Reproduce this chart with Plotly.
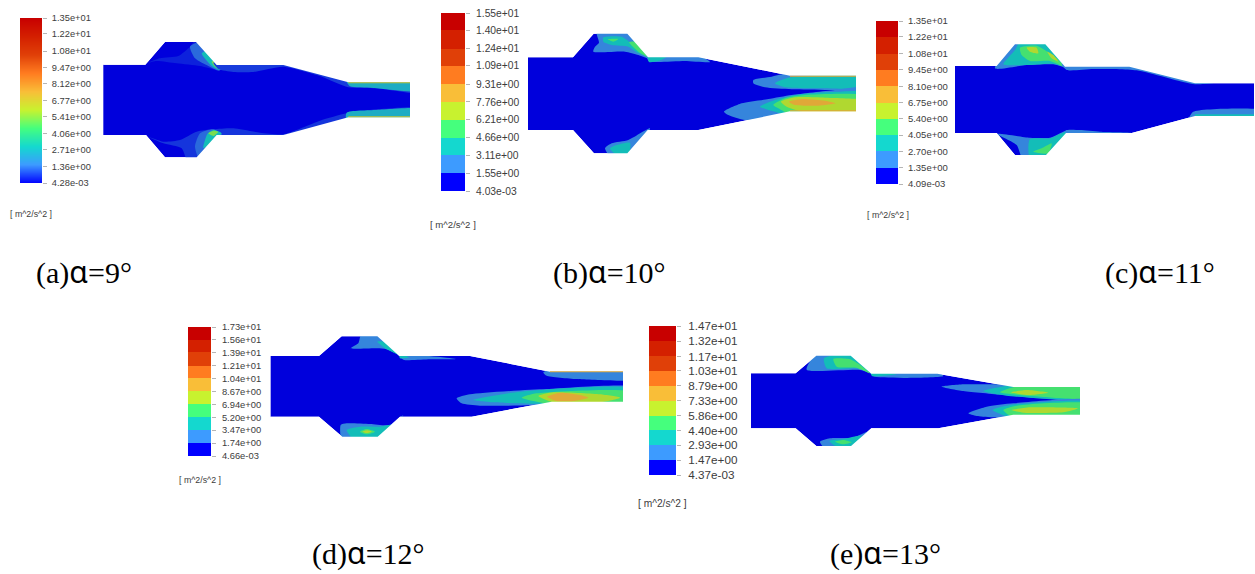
import plotly.graph_objects as go

W, H = 1255, 574

# Legend tick labels, bottom to top
TICKS_A = ["4.28e-03","1.36e+00","2.71e+00","4.06e+00","5.41e+00","6.77e+00","8.12e+00","9.47e+00","1.08e+01","1.22e+01","1.35e+01"]
TICKS_B = ["4.03e-03","1.55e+00","3.11e+00","4.66e+00","6.21e+00","7.76e+00","9.31e+00","1.09e+01","1.24e+01","1.40e+01","1.55e+01"]
TICKS_C = ["4.09e-03","1.35e+00","2.70e+00","4.05e+00","5.40e+00","6.75e+00","8.10e+00","9.45e+00","1.08e+01","1.22e+01","1.35e+01"]
TICKS_D = ["4.66e-03","1.74e+00","3.47e+00","5.20e+00","6.94e+00","8.67e+00","1.04e+01","1.21e+01","1.39e+01","1.56e+01","1.73e+01"]
TICKS_E = ["4.37e-03","1.47e+00","2.93e+00","4.40e+00","5.86e+00","7.33e+00","8.79e+00","1.03e+01","1.17e+01","1.32e+01","1.47e+01"]

BAND_COLORS = ["#0000FF","#3D9BFF","#14D8CF","#45FF7D","#C8F22F","#F9BE38","#FF7C20","#E04008","#D42000","#C80000"]
FIELD_COLORS = ["#0000DC","#3585DC","#13BDB8","#45E070","#B0D830","#E0A838","#E87020"]

# Nozzle outlines, in units of the panel's own grid
OUTLINE_A = [(310,194),(436,194),(495,126),(588,126),(650,195),(850,195),(1045,247),(1230,247),(1230,352),(1045,352),(850,405),(650,405),(590,472),(495,472),(438,405),(310,405)]
OUTLINE_B = [(309,172),(444,172),(506,101),(607,101),(669,172),(820,172),(1095,227),(1293,227),(1293,334),(1095,334),(820,390),(668,390),(607,460),(507,460),(444,390),(309,390)]
OUTLINE_C = [(285,183),(410,183),(465,118),(556,118),(615,185),(808,185),(1005,235),(1182,235),(1182,333),(1005,333),(815,384),(618,384),(558,450),(465,450),(410,384),(285,384)]
OUTLINE_D = [(302,123),(447,123),(515,64),(622,64),(688,123),(900,123),(1140,170),(1359,170),(1359,260),(1145,260),(905,305),(690,305),(623,365),(517,365),(447,305),(302,305)]
OUTLINE_E = [(363,175),(497,175),(559,122),(662,122),(724,176),(922,176),(1150,216),(1350,216),(1350,299),(1150,299),(925,340),(724,340),(663,393),(559,393),(497,340),(363,340)]

# Contour regions: (level, vertices). Vertices may run past the walls; the outside is masked.
REGIONS_A = [
 (0.25,[(445,188),(480,175),(535,168),(570,140),(590,118),(670,190),(662,210),(600,198),(530,190),(470,183)]),
 (0.8,[(570,140),(600,125),(665,190),(658,212),(625,198),(585,175)]),
 (2.0,[(605,160),(630,150),(670,195),(660,210),(635,198)]),
 (3.5,[(635,185),(660,185),(662,208),(645,200)]),
 (0.45,[(640,188),(850,185),(1045,235),(1290,235),(1290,280),(1130,265),(1045,262),(960,228),(850,200),(760,216),(700,216),(655,207)]),
 (1.7,[(1040,245),(1300,240),(1300,274),(1120,264),(1050,259)]),
 (0.4,[(445,410),(490,425),(540,420),(590,395),(640,388),(700,385),(780,398),(850,403),(960,362),(1040,340),(1130,328),(1290,325),(1290,365),(1045,365),(850,420),(650,420),(600,490),(565,490),(545,445),(490,430)]),
 (0.8,[(600,400),(640,388),(670,410),(600,480),(585,440)]),
 (2.0,[(622,402),(640,390),(665,400),(610,445)]),
 (1.7,[(1040,338),(1130,330),(1300,328),(1300,365),(1040,365)]),
 (3.5,[(625,400),(640,392),(655,395),(640,408)]),
]
LINES_A = [(4.5,[(1045,247),(1230,247),(1230,250),(1045,250)]),(4.5,[(1045,349),(1230,349),(1230,352),(1045,352)])]
REGIONS_B = [
 (1,[(515,95),(620,90),(660,150),(680,178),(640,165),(600,155),(505,155),(510,140),(522,128)]),
 (2,[(535,112),(590,110),(625,135),(668,168),(640,160),(610,140),(560,135),(535,125)]),
 (3,[(612,127),(628,125),(670,172),(640,155)]),
 (3,[(548,118),(580,117),(565,125)]),
 (1,[(665,165),(820,165),(855,186),(780,183),(700,186),(672,184)]),
 (2,[(668,165),(725,170),(700,183),(672,186)]),
 (1,[(540,445),(560,430),(610,420),(675,385),(620,475),(560,475)]),
 (2,[(555,445),(575,435),(615,428),(610,470),(570,462)]),
 (1,[(985,240),(1040,230),(1090,220),(1340,220),(1340,265),(1220,270),(1100,268),(1020,262),(985,250)]),
 (2,[(1050,250),(1095,232),(1340,225),(1340,262),(1190,265),(1080,262)]),
 (1,[(897,335),(950,310),(1030,297),(1100,285),(1230,270),(1340,262),(1340,345),(1095,345),(960,360),(910,345)]),
 (2,[(1005,320),(1050,300),(1130,282),(1240,275),(1340,277),(1340,345),(1095,345),(1030,330)]),
 (3,[(1045,315),(1080,295),(1140,285),(1340,290),(1340,345),(1100,345),(1060,325)]),
 (4,[(1068,305),(1110,292),(1200,293),(1340,305),(1340,345),(1150,340),(1085,320)]),
 (5,[(1092,305),(1130,297),(1200,302),(1232,310),(1180,317),(1110,315)]),
]
LINES_B = [(5,[(1095,227),(1293,227),(1293,230),(1095,230)]),(5,[(1095,331),(1293,331),(1293,334),(1095,334)])]
REGIONS_C = [
 (1,[(405,190),(468,105),(560,105),(630,190),(580,178),(500,180)]),
 (2,[(430,178),(465,135),(480,110),(560,115),(625,185),(575,176),(500,180)]),
 (3,[(480,128),(530,122),(590,160),(612,185),(570,168),(510,168),(485,150)]),
 (4,[(500,128),(530,128),(535,145),(510,140)]),
 (4,[(562,140),(580,150),(595,170),(575,160)]),
 (1,[(605,178),(808,178),(1005,225),(1100,228),(1005,238),(830,196),(700,192),(620,195)]),
 (1,[(412,387),(510,398),(570,398),(625,375),(570,465),(490,465),(470,420)]),
 (2,[(510,402),(570,400),(620,380),(565,460),(510,460),(505,425)]),
 (3,[(520,440),(545,430),(575,415),(565,445)]),
 (1,[(618,376),(660,375),(720,380),(815,384),(770,395),(618,395)]),
 (1,[(985,345),(1000,320),(1230,318),(1230,350),(1005,350)]),
]
LINES_C = [(5,[(1005,235),(1182,235),(1182,237),(1005,237)]),(2,[(1005,328),(1182,328),(1182,333),(1005,333)]),(5,[(1005,331),(1182,331),(1182,333),(1005,333)])]
REGIONS_D = [
 (1,[(542,100),(565,85),(575,55),(630,55),(700,125),(650,103),(620,100)]),
 (2,[(622,80),(640,80),(700,125),(650,103)]),
 (1,[(685,118),(860,132),(780,133),(700,134)]),
 (2,[(688,120),(720,127),(690,130)]),
 (1,[(512,330),(530,325),(600,327),(660,330),(700,300),(630,380),(517,380)]),
 (2,[(530,345),(570,335),(630,335),(665,330),(622,375),(550,372)]),
 (3,[(570,350),(590,342),(615,350),(590,358)]),
 (4,[(578,350),(592,346),(605,350),(590,354)]),
 (1,[(1120,172),(1150,162),(1400,162),(1400,192),(1220,192),(1130,182)]),
 (1,[(860,250),(900,238),(1130,222),(1400,218),(1400,270),(1145,270),(930,272),(875,265)]),
 (2,[(910,255),(1050,230),(1400,222),(1400,270),(1145,268),(970,262)]),
 (3,[(1055,248),(1100,235),(1400,232),(1400,270),(1145,268),(1090,258)]),
 (4,[(1105,243),(1150,232),(1290,238),(1350,248),(1290,262),(1150,262)]),
 (5,[(1132,245),(1170,233),(1230,240),(1255,248),(1210,258),(1160,258)]),
]
LINES_D = [(5,[(1140,169),(1359,169),(1359,172),(1140,172)]),(6,[(1145,258),(1359,258),(1359,260),(1145,260)])]
REGIONS_E = [
 (1,[(530,164),(560,115),(662,112),(740,178),(690,165)]),
 (2,[(582,130),(662,118),(735,176),(680,160),(590,160)]),
 (3,[(610,132),(660,133),(690,150),(720,175),(680,158),(620,155)]),
 (1,[(720,170),(922,170),(940,183),(730,184)]),
 (2,[(722,172),(800,178),(726,183)]),
 (1,[(570,380),(600,370),(670,368),(715,350),(670,405),(580,395)]),
 (2,[(598,378),(640,372),(695,362),(665,400),(620,395)]),
 (3,[(615,380),(640,375),(665,382),(640,388)]),
 (1,[(935,215),(1000,208),(1150,208),(1395,208),(1395,255),(1250,252),(1120,240),(1000,228)]),
 (2,[(1060,228),(1150,210),(1395,210),(1395,250),(1130,242)]),
 (3,[(1110,232),(1170,212),(1395,212),(1395,248),(1230,245)]),
 (4,[(1142,232),(1190,225),(1255,233),(1190,240)]),
 (1,[(1015,295),(1070,275),(1150,265),(1395,257),(1395,310),(1150,310),(1040,303)]),
 (2,[(1088,285),(1140,270),(1395,262),(1395,310),(1150,310)]),
 (3,[(1120,285),(1160,272),(1395,268),(1395,310),(1150,308)]),
 (4,[(1145,285),(1200,277),(1345,280),(1300,292),(1180,293)]),
]
LINES_E = [(6,[(1150,216),(1350,216),(1350,218),(1150,218)])]

CAPTIONS = ["(a)","(b)","(c)","(d)","(e)"]
ANGLES = ["9°","10°","11°","12°","13°"]
UNIT = "[ m^2/s^2 ]"

PANELS = [
 dict(crop=(0,0,420,230), outline=OUTLINE_A, regions=REGIONS_A, lines=LINES_A, ticks=TICKS_A, bar=(20,42,18,183), size=9.3, gap=3, smooth=True, unit=(10,214,8.8), cap=(35,271)),
 dict(crop=(425,0,440,240), outline=OUTLINE_B, regions=REGIONS_B, lines=LINES_B, ticks=TICKS_B, bar=(441,465,13,191), size=10.3, gap=4, smooth=False, unit=(430,224,9.6), cap=(552,271)),
 dict(crop=(860,5,395,225), outline=OUTLINE_C, regions=REGIONS_C, lines=LINES_C, ticks=TICKS_C, bar=(876,898,21,184), size=9.5, gap=3, smooth=False, unit=(867,215,8.8), cap=(1104,271)),
 dict(crop=(170,315,460,180), outline=OUTLINE_D, regions=REGIONS_D, lines=LINES_D, ticks=TICKS_D, bar=(188,211,327,456), size=9.4, gap=4, smooth=False, unit=(179,480,8.8), cap=(311,552)),
 dict(crop=(630,315,460,195), outline=OUTLINE_E, regions=REGIONS_E, lines=LINES_E, ticks=TICKS_E, bar=(649,676,326,475), size=11.7, gap=5, smooth=False, unit=(638,503,10.2), cap=(829,552)),
]
MASK_PAD = 46


def hex_rgb(h):
    return tuple(int(h[i:i+2], 16) for i in (1, 3, 5))


def level_color(level):
    i = min(int(level), len(FIELD_COLORS) - 2)
    t = level - i
    a, b = hex_rgb(FIELD_COLORS[i]), hex_rgb(FIELD_COLORS[i + 1])
    return "rgb(%d,%d,%d)" % tuple(round(a[k] + (b[k] - a[k]) * t) for k in range(3))


def stepped_scale(colors):
    n = len(colors)
    scale = []
    for i, c in enumerate(colors):
        scale += [[i / n, c], [(i + 1) / n, c]]
    return scale


def smooth_scale(colors):
    n = len(colors) - 1
    return [[i / n, c] for i, c in enumerate(colors)]


def polygon(points, color, xa, ya, smooth):
    xs = [p[0] for p in points] + [points[0][0]]
    ys = [p[1] for p in points] + [points[0][1]]
    line = dict(width=0, color=color)
    if smooth:
        line.update(shape="spline", smoothing=0.6)
    return go.Scatter(x=xs, y=ys, mode="lines", fill="toself", fillcolor=color, line=line,
                      xaxis=xa, yaxis=ya, hoverinfo="skip", showlegend=False)


def mask(outline, xa, ya):
    hole = list(reversed(outline))
    xs = [p[0] for p in hole]
    ys = [p[1] for p in hole]
    l, r, t, b = min(xs), max(xs) + MASK_PAD, min(ys) - MASK_PAD, max(ys) + MASK_PAD
    mx = [l, r, r, l, l, None] + xs + [xs[0]]
    my = [t, t, b, b, t, None] + ys + [ys[0]]
    return go.Scatter(x=mx, y=my, mode="lines", fill="toself", fillcolor="white", line=dict(width=0, color="white"),
                      xaxis=xa, yaxis=ya, hoverinfo="skip", showlegend=False)


fig = go.Figure()
layout = {}
annotations = []
axis_no = 0


def axis_names():
    global axis_no
    axis_no += 1
    s = "" if axis_no == 1 else str(axis_no)
    return "x" + s, "y" + s, "xaxis" + s, "yaxis" + s


for p, caption, angle in zip(PANELS, CAPTIONS, ANGLES):
    # nozzle field
    x0, y0, w, h = p["crop"]
    xa, ya, xk, yk = axis_names()
    layout[xk] = dict(domain=[x0 / W, (x0 + w) / W], range=[0, w * 3], visible=False, anchor=ya, fixedrange=True)
    layout[yk] = dict(domain=[1 - (y0 + h) / H, 1 - y0 / H], range=[h * 3, 0], visible=False, anchor=xa, fixedrange=True)
    fig.add_trace(polygon(p["outline"], level_color(0), xa, ya, False))
    for level, pts in p["regions"]:
        fig.add_trace(polygon(pts, level_color(level), xa, ya, True))
    fig.add_trace(mask(p["outline"], xa, ya))
    for level, pts in p["lines"]:
        fig.add_trace(polygon(pts, level_color(level), xa, ya, False))

    # legend bar
    bx0, bx1, by0, by1 = p["bar"]
    xa, ya, xk, yk = axis_names()
    vals = [float(t) for t in p["ticks"]]
    layout[xk] = dict(domain=[bx0 / W, bx1 / W], range=[0, 1], visible=False, anchor=ya, fixedrange=True)
    layout[yk] = dict(domain=[1 - by1 / H, 1 - by0 / H], range=[vals[0], vals[-1]], anchor=xa, side="right",
                      tickmode="array", tickvals=vals, ticktext=p["ticks"], ticks="outside", ticklen=4,
                      tickcolor="#b5b5b5", tickwidth=1, showgrid=False, zeroline=False, showline=False,
                      tickfont=dict(family="Liberation Sans", size=p["size"], color="#3c3c3c"),
                      ticklabelstandoff=p["gap"], fixedrange=True)
    if p["smooth"]:
        hm = go.Heatmap(x=[0, 1], y=vals, z=[[v, v] for v in vals], zsmooth="best",
                        colorscale=smooth_scale(BAND_COLORS), zmin=vals[0], zmax=vals[-1],
                        showscale=False, xaxis=xa, yaxis=ya, hoverinfo="skip")
    else:
        mids = [(a + b) / 2 for a, b in zip(vals[:-1], vals[1:])]
        hm = go.Heatmap(x=[0, 1], y=vals, z=[[m] for m in mids],
                        colorscale=stepped_scale(BAND_COLORS), zmin=vals[0], zmax=vals[-1],
                        showscale=False, xaxis=xa, yaxis=ya, hoverinfo="skip")
    fig.add_trace(hm)

    ux, uy, us = p["unit"]
    annotations.append(dict(text=UNIT, x=ux / W, y=1 - uy / H, xref="paper", yref="paper", showarrow=False,
                            xanchor="left", yanchor="middle", borderpad=0, borderwidth=0,
                            font=dict(family="Liberation Sans", size=us, color="#3c3c3c")))
    cx, cy = p["cap"]
    text = caption + "<span style=\"font-family:'Noto Sans'\">α</span>=" + angle
    annotations.append(dict(text=text, x=cx / W, y=1 - cy / H, xref="paper", yref="paper", showarrow=False,
                            xanchor="left", yanchor="middle", borderpad=0,
                            font=dict(family="Liberation Serif", size=30, color="#000000")))

fig.update_layout(width=W, height=H, margin=dict(l=0, r=0, t=0, b=0, autoexpand=False), paper_bgcolor="white",
                  plot_bgcolor="rgba(0,0,0,0)", showlegend=False, annotations=annotations, **layout)
fig.write_html("out.html", config=dict(displayModeBar=False),
               post_script="document.body.style.margin='0';document.body.style.overflow='hidden';")
